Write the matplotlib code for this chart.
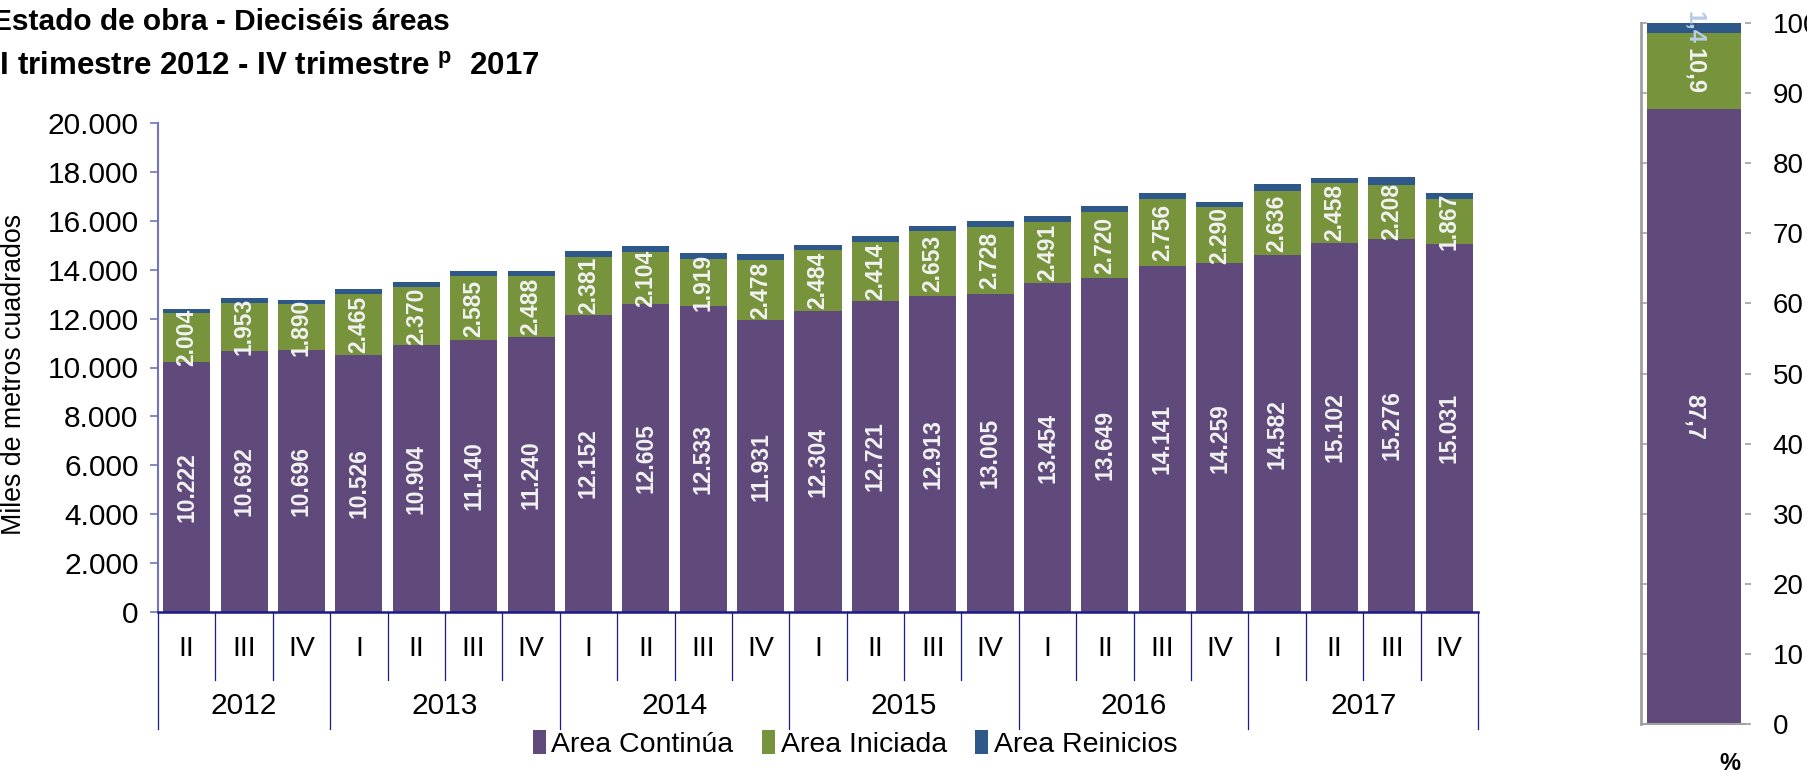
#!/usr/bin/env python3
"""Estado de obra - Dieciseis areas, stacked bars with share panel."""

import matplotlib
matplotlib.use("Agg")
import matplotlib.pyplot as plt
import matplotlib.transforms as mtransforms
import numpy as np


YEARS = ["2012", "2013", "2014", "2015", "2016", "2017"]
QUARTERS = ["II", "III", "IV",
            "I", "II", "III", "IV",
            "I", "II", "III", "IV",
            "I", "II", "III", "IV",
            "I", "II", "III", "IV",
            "I", "II", "III", "IV"]
QUARTERS_PER_YEAR = [3, 4, 4, 4, 4, 4]

CONTINUA = [10222, 10692, 10696, 10526, 10904, 11140, 11240, 12152, 12605, 12533,
            11931, 12304, 12721, 12913, 13005, 13454, 13649, 14141, 14259, 14582,
            15102, 15276, 15031]
INICIADA = [2004, 1953, 1890, 2465, 2370, 2585, 2488, 2381, 2104, 1919,
            2478, 2484, 2414, 2653, 2728, 2491, 2720, 2756, 2290, 2636,
            2458, 2208, 1867]
REINICIOS = [150, 180, 180, 240, 240, 240, 210, 240, 240, 240,
             240, 240, 240, 240, 240, 240, 240, 240, 200, 290,
             190, 290, 241]

SERIES_NAMES = ["Area Continúa", "Area Iniciada", "Area Reinicios"]

PURPLE = "#604a7b"
GREEN = "#77933c"
BLUE = "#2d5889"
LABEL_WHITE = "#f2f2f2"
AXIS_BLUE = "#7373bf"
NAVY = "#1a1a8c"

W, H = 1808, 773


def fmt_thousands(v: float) -> str:
    return f"{v:,.0f}".replace(",", ".")


def fmt_pct(v: float) -> str:
    return f"{v:.1f}".replace(".", ",")


def main() -> None:
    plt.rcParams["font.family"] = ["Liberation Sans", "DejaVu Sans"]
    plt.rcParams["mathtext.fontset"] = "custom"
    plt.rcParams["mathtext.bf"] = "Liberation Sans:bold"
    plt.rcParams["mathtext.rm"] = "Liberation Sans"

    fig = plt.figure(figsize=(W / 100, H / 100), dpi=100)

    # main stacked bars
    ax = fig.add_axes([158 / W, 1 - 612 / H, (1478 - 158) / W, (612 - 123) / H])
    x = np.arange(len(QUARTERS))
    cont = np.asarray(CONTINUA, dtype=float)
    ini = np.asarray(INICIADA, dtype=float)
    rei = np.asarray(REINICIOS, dtype=float)
    bw = 0.82
    ax.bar(x, cont, bw, color=PURPLE, label=SERIES_NAMES[0])
    ax.bar(x, ini, bw, bottom=cont, color=GREEN, label=SERIES_NAMES[1])
    ax.bar(x, rei, bw, bottom=cont + ini, color=BLUE, label=SERIES_NAMES[2])

    for xi, c, i in zip(x, cont, ini):
        ax.text(xi, c / 2, fmt_thousands(c), rotation=90, ha="center", va="center",
                color=LABEL_WHITE, fontsize=16.5, fontweight="bold")
        ax.text(xi, c + i / 2, fmt_thousands(i), rotation=90, ha="center", va="center",
                color=LABEL_WHITE, fontsize=16.5, fontweight="bold")

    ax.set_xlim(-0.5, len(QUARTERS) - 0.5)
    ax.set_ylim(0, 20000)
    ax.set_yticks(np.arange(0, 20001, 2000))
    ax.set_yticklabels([fmt_thousands(v) for v in np.arange(0, 20001, 2000)])
    ax.tick_params(axis="y", direction="out", length=6, width=1.2, color=AXIS_BLUE,
                   labelsize=21.5, pad=8)
    ax.set_xticks([])
    for side in ("top", "right"):
        ax.spines[side].set_visible(False)
    ax.spines["left"].set_color(AXIS_BLUE)
    ax.spines["left"].set_linewidth(1.5)
    ax.spines["bottom"].set_color(NAVY)
    ax.spines["bottom"].set_linewidth(1.8)

    # two-level category axis
    trans = mtransforms.blended_transform_factory(ax.transData, ax.transAxes)
    q_sep_end = -0.139
    y_sep_end = -0.239
    for xi, q in zip(x, QUARTERS):
        ax.text(xi, -0.075, q, transform=trans, ha="center", va="center", fontsize=20.5)
    bounds = np.concatenate([[0], np.cumsum(QUARTERS_PER_YEAR)]) - 0.5
    for b in np.arange(-0.5, len(QUARTERS), 1.0):
        end = y_sep_end if np.any(np.isclose(bounds, b)) else q_sep_end
        ax.plot([b, b], [0, end], transform=trans, color=NAVY, lw=0.9, clip_on=False)
    for yr, lo, hi in zip(YEARS, bounds[:-1], bounds[1:]):
        ax.text((lo + hi) / 2, -0.192, yr, transform=trans, ha="center", va="center",
                fontsize=21.5)

    fig.text(14 / W, 0.515, "Miles de metros cuadrados", rotation=90, ha="center",
             va="center", fontsize=19.3)

    fig.legend(loc="center", bbox_to_anchor=(855 / W, 1 - 744 / H), ncols=3,
               frameon=False, fontsize=20.5, handlelength=0.45, handleheight=0.9,
               handletextpad=0.2, columnspacing=1.0, borderaxespad=0)

    # title (left edge cut like the source)
    fig.text(-8 / W, 1 - 22 / H, "Estado de obra - Dieciséis áreas", ha="left",
             va="center", fontsize=21.5, fontweight="bold")
    fig.text(-9 / W, 1 - 67 / H,
             "II trimestre 2012 - IV trimestre $^{\\mathbf{p}}$  2017",
             ha="left", va="center", fontsize=22.5, fontweight="bold")

    # share panel for last quarter
    total = cont[-1] + ini[-1] + rei[-1]
    shares = [cont[-1] / total * 100, ini[-1] / total * 100, rei[-1] / total * 100]
    ax2 = fig.add_axes([1641 / W, 1 - 724 / H, 104 / W, (724 - 23) / H])
    bottoms = np.concatenate([[0], np.cumsum(shares)[:-1]])
    for s, btm, col in zip(shares, bottoms, [PURPLE, GREEN, BLUE]):
        ax2.bar(0, s, 0.92, bottom=btm, color=col)
    ax2.text(0, bottoms[0] + shares[0] / 2, fmt_pct(shares[0]), rotation=-90,
             ha="center", va="center", color=LABEL_WHITE, fontsize=17, fontweight="bold")
    ax2.text(0, bottoms[1] + shares[1] / 2, fmt_pct(shares[1]), rotation=-90,
             ha="center", va="center", color=LABEL_WHITE, fontsize=17, fontweight="bold")
    ax2.text(0, bottoms[2] + shares[2] / 2, fmt_pct(shares[2]), rotation=-90,
             ha="center", va="center", color="#b8cce4", fontsize=17, fontweight="bold")
    ax2.set_xlim(-0.52, 0.5)
    ax2.set_ylim(0, 100)
    ax2.set_xticks([])
    ax2.set_yticks(np.arange(0, 101, 10))
    ax2.yaxis.tick_right()
    ax2.tick_params(axis="y", direction="out", length=4, width=1.2, color="#a0a0a0",
                    labelsize=20, pad=16)
    for side in ("top", "right"):
        ax2.spines[side].set_visible(False)
    ax2.spines["left"].set_color("#a0a0a0")
    ax2.spines["left"].set_linewidth(2)
    ax2.spines["bottom"].set_color("#a0a0a0")
    ax2.spines["bottom"].set_linewidth(1.5)
    for yt in np.arange(10, 101, 10):
        ax2.plot([-0.52, -0.47], [yt, yt], color="#a0a0a0", lw=1.2, clip_on=False)

    fig.text(1730 / W, 1 - 764 / H, "%", ha="center", va="center", fontsize=17,
             fontweight="bold")

    fig.savefig("out.png", dpi=100)


if __name__ == "__main__":
    main()
